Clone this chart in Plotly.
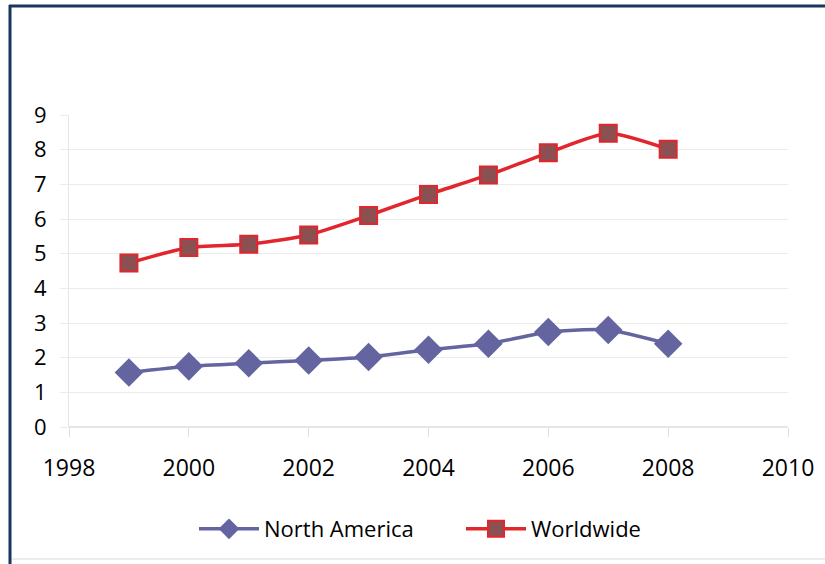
import plotly.graph_objects as go

years = [1999, 2000, 2001, 2002, 2003, 2004, 2005, 2006, 2007, 2008]
north_america = [1.57, 1.75, 1.84, 1.92, 2.02, 2.23, 2.40, 2.74, 2.80, 2.40]
worldwide = [4.73, 5.18, 5.27, 5.54, 6.10, 6.71, 7.27, 7.91, 8.47, 8.01]
x_ticks = [1998, 2000, 2002, 2004, 2006, 2008, 2010]
y_ticks = [0, 1, 2, 3, 4, 5, 6, 7, 8, 9]

W, H = 825, 564
L, R, T, B = 69, 37, 115, 137
pw, ph = W - L - R, H - T - B

def px(x):
    return (x - L) / pw

def py(y):
    return (H - B - y) / ph

FONT = "Open Sans, Noto Sans, sans-serif"

fig = go.Figure()
fig.add_trace(go.Scatter(
    x=years, y=north_america, name="North America", mode="lines+markers",
    line=dict(color="#6465A0", width=3.5, shape="spline", smoothing=0.6),
    marker=dict(symbol="diamond", size=22, color="#6465A0",
                line=dict(color="#6465A0", width=0)),
))
fig.add_trace(go.Scatter(
    x=years, y=worldwide, name="Worldwide", mode="lines+markers",
    line=dict(color="#E2262D", width=3.5, shape="spline", smoothing=0.6),
    marker=dict(symbol="square", size=17, color="#8A5052",
                line=dict(color="#E2262D", width=2)),
))

shapes = [
    dict(type="line", xref="paper", yref="paper", x0=px(10), x1=px(10),
         y0=py(5), y1=py(564), line=dict(color="#17375E", width=3)),
    dict(type="line", xref="paper", yref="paper", x0=px(9), x1=px(825),
         y0=py(6), y1=py(6), line=dict(color="#17375E", width=3)),
    dict(type="line", xref="paper", yref="paper", x0=px(12), x1=px(825),
         y0=py(559), y1=py(559), line=dict(color="#E6E6E6", width=1.5)),
]

fig.update_layout(
    width=W, height=H,
    margin=dict(l=L, r=R, t=T, b=B, autoexpand=False),
    paper_bgcolor="white", plot_bgcolor="white",
    font=dict(family=FONT, color="#000000", size=22),
    showlegend=True,
    legend=dict(orientation="h", x=px(194), y=py(529), yanchor="middle", xanchor="left",
                font=dict(size=22, family=FONT), itemwidth=60, tracegroupgap=0,
                bgcolor="rgba(0,0,0,0)", entrywidth=192, entrywidthmode="pixels"),
    shapes=shapes,
    xaxis=dict(range=[1998, 2010], tickvals=x_ticks, showgrid=False,
               ticks="outside", ticklen=9, tickcolor="#E0E0E0", tickwidth=1,
               showline=False, zeroline=False, ticklabelstandoff=11,
               tickfont=dict(size=23, family=FONT)),
    yaxis=dict(range=[0, 9], tickvals=y_ticks, showgrid=True, gridcolor="#EBEBEB",
               gridwidth=1, ticks="outside", ticklen=8, tickcolor="#EBEBEB",
               showline=True, linecolor="#E6E6E6", linewidth=1, zeroline=True,
               zerolinecolor="#E6E6E6", ticklabelstandoff=9,
               tickfont=dict(size=22, family=FONT)),
)

fig.write_html("out.html")
